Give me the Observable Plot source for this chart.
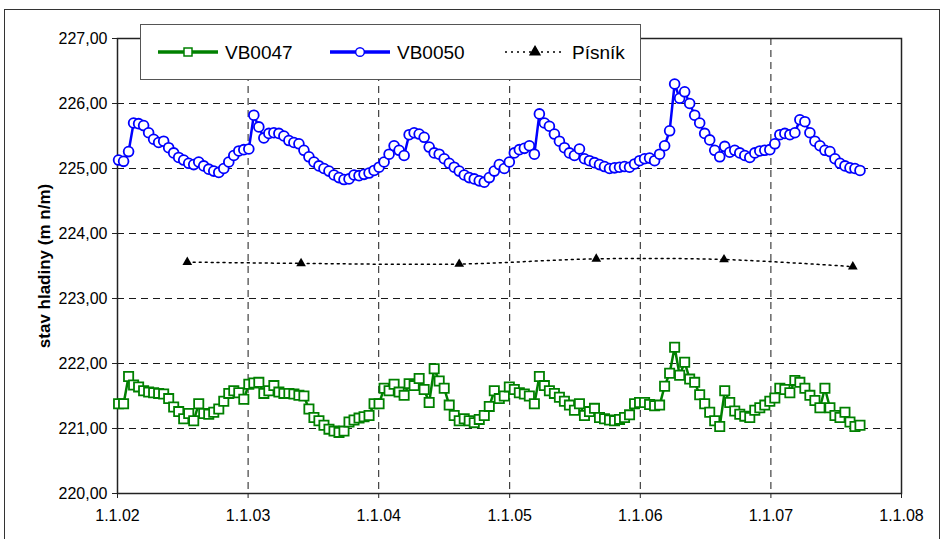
<!DOCTYPE html>
<html><head><meta charset="utf-8">
<script src="https://cdn.jsdelivr.net/npm/d3@7"></script>
<script src="https://cdn.jsdelivr.net/npm/@observablehq/plot@0.6"></script>
<style>
body{margin:0;background:#fff;}
#wrap{position:relative;width:941px;height:539px;overflow:hidden;font-family:"Liberation Sans",Arial,sans-serif;}
#chart{position:absolute;left:0;top:0;}
#border{position:absolute;left:4px;top:9px;width:936px;height:545px;border:1.5px solid #333;box-sizing:border-box;pointer-events:none;}
#legend{position:absolute;left:140px;top:24px;width:501px;height:56px;border:1.5px solid #555;background:#fff;box-sizing:border-box;}
g[aria-label="y-axis label"] text{font-weight:bold;font-size:17px;}
</style></head><body>
<div id="wrap"><div id="chart"></div><div id="border"></div><div id="legend"></div></div>
<script>
// ---- data ----
const seriesNames = ["VB0047", "VB0050", "Písník"];
const startDate = "2002-01-04"; // first measurement, then every 14 days
const stepDays = 14;
const vb0050 = [
225.13,225.11,225.26,225.70,225.69,225.66,225.55,225.45,225.40,225.42,
225.32,225.24,225.17,225.13,225.08,225.06,225.10,225.04,224.99,224.96,
224.94,225.00,225.10,225.20,225.27,225.29,225.30,225.82,225.64,225.47,
225.54,225.55,225.54,225.50,225.43,225.40,225.38,225.28,225.18,225.10,
225.04,225.00,224.96,224.90,224.86,224.83,224.84,224.90,224.89,224.91,
224.93,224.97,225.02,225.10,225.22,225.35,225.28,225.20,225.52,225.55,
225.53,225.48,225.33,225.24,225.22,225.15,225.08,225.02,224.96,224.90,
224.86,224.84,224.81,224.79,224.86,224.96,225.06,225.00,225.10,225.24,
225.29,225.31,225.35,225.22,225.84,225.70,225.65,225.53,225.42,225.32,
225.24,225.20,225.30,225.15,225.12,225.09,225.06,225.03,225.00,225.01,
225.02,225.03,225.02,225.07,225.12,225.15,225.16,225.12,225.22,225.35,
225.58,226.30,226.08,226.18,226.00,225.82,225.70,225.54,225.44,225.28,
225.18,225.34,225.25,225.28,225.24,225.20,225.17,225.24,225.27,225.28,
225.29,225.38,225.52,225.54,225.52,225.55,225.75,225.72,225.55,225.42,
225.35,225.28,225.26,225.15,225.08,225.04,225.01,225.00,224.97];
const vb0047 = [
221.38,221.38,221.80,221.67,221.64,221.58,221.56,221.55,221.54,221.53,
221.46,221.33,221.26,221.15,221.23,221.12,221.38,221.23,221.22,221.25,
221.30,221.42,221.54,221.58,221.55,221.45,221.68,221.70,221.71,221.54,
221.58,221.66,221.56,221.54,221.54,221.53,221.51,221.50,221.30,221.17,
221.12,221.05,220.99,220.96,220.94,220.96,221.10,221.13,221.16,221.18,
221.20,221.38,221.38,221.62,221.58,221.68,221.56,221.51,221.69,221.66,
221.77,221.60,221.40,221.92,221.73,221.62,221.36,221.20,221.12,221.15,
221.12,221.09,221.14,221.20,221.34,221.58,221.46,221.50,221.64,221.60,
221.55,221.53,221.50,221.38,221.80,221.66,221.58,221.54,221.48,221.42,
221.36,221.28,221.38,221.20,221.26,221.31,221.17,221.15,221.13,221.12,
221.14,221.17,221.21,221.38,221.40,221.40,221.37,221.35,221.36,221.65,
221.85,222.25,221.82,222.02,221.76,221.71,221.52,221.38,221.25,221.12,
221.03,221.58,221.40,221.27,221.22,221.19,221.17,221.28,221.32,221.36,
221.42,221.47,221.62,221.60,221.55,221.74,221.71,221.62,221.51,221.43,
221.32,221.62,221.32,221.20,221.17,221.25,221.10,221.03,221.05];
const pisnikDates = ["2002-07-15","2003-05-29","2004-08-13","2005-08-31","2006-08-23","2007-08-18"];
const pisnikValues = [223.56,223.54,223.53,223.61,223.60,223.49];
const xTickLabels = ["1.1.02","1.1.03","1.1.04","1.1.05","1.1.06","1.1.07","1.1.08"];
const xTickDates = ["2002-01-01","2003-01-01","2004-01-01","2005-01-01","2006-01-01","2007-01-01","2008-01-01"];
const yTicks = [220,221,222,223,224,225,226,227];
const colors = {VB0047: "#008000", VB0050: "#0000ff", "Písník": "#000000"};

// ---- build tables ----
const t0 = new Date(startDate + "T00:00:00Z");
const toRows = vals => vals.map((v, i) => ({date: d3.utcDay.offset(t0, i * stepDays), v}));
const g47 = toRows(vb0047);
const b50 = toRows(vb0050);
const pis = pisnikDates.map((d, i) => ({date: new Date(d + "T00:00:00Z"), v: pisnikValues[i]}));
const xTicks = xTickDates.map(d => new Date(d + "T00:00:00Z"));
const xLabel = new Map(xTicks.map((d, i) => [+d, xTickLabels[i]]));
const yFmt = d => d.toFixed(2).replace(".", ",");
const dash = "7,5";

const chart = Plot.plot({
  width: 941, height: 539,
  marginLeft: 117, marginRight: 40, marginTop: 38, marginBottom: 46,
  style: {fontFamily: '"Liberation Sans", Arial, sans-serif', fontSize: "16px", background: "transparent", color: "#000"},
  x: {type: "utc", domain: [xTicks[0], xTicks[xTicks.length - 1]]},
  y: {domain: [220, 227]},
  marks: [
    Plot.ruleY(yTicks.slice(1, -1), {stroke: "#000", strokeOpacity: 0.9, strokeDasharray: dash}),
    Plot.ruleX(xTicks.slice(1, -1), {stroke: "#000", strokeOpacity: 0.9, strokeDasharray: dash}),
    Plot.frame({stroke: "#222", strokeWidth: 1.5}),
    Plot.axisX({ticks: xTicks, tickFormat: d => xLabel.get(+d), tickSize: 5, tickPadding: 11, label: null, stroke: "#222"}),
    Plot.axisY({ticks: yTicks, tickFormat: yFmt, tickSize: 5, tickPadding: 5, label: "stav hladiny (m n/m)", labelAnchor: "center", labelArrow: "none", labelOffset: 80, stroke: "#222"}),
    Plot.line(g47, {x: "date", y: "v", stroke: colors.VB0047, strokeWidth: 2.5}),
    Plot.dot(g47, {x: "date", y: "v", symbol: "square", r: 5.2, stroke: colors.VB0047, strokeWidth: 1.8, fill: "white"}),
    Plot.line(b50, {x: "date", y: "v", stroke: colors.VB0050, strokeWidth: 2.5}),
    Plot.dot(b50, {x: "date", y: "v", symbol: "circle", r: 4.9, stroke: colors.VB0050, strokeWidth: 1.8, fill: "white"}),
    Plot.line(pis, {x: "date", y: "v", stroke: "#000", strokeWidth: 1.5, strokeDasharray: "2,4", curve: "catmull-rom"}),
    Plot.dot(pis, {x: "date", y: "v", symbol: "triangle", r: 3.6, fill: "#000"})
  ]
});
document.getElementById("chart").append(chart);

// ---- legend ----
const lg = d3.select("#legend").append("svg").attr("width", 498).attr("height", 53)
  .style("font-family", '"Liberation Sans", Arial, sans-serif');
const items = [
  {name: seriesNames[0], x0: 17, sym: d3.symbolSquare, size: 64, fill: "white", dash: null},
  {name: seriesNames[1], x0: 189, sym: d3.symbolCircle, size: 60, fill: "white", dash: null},
  {name: seriesNames[2], x0: 364, sym: d3.symbolTriangle, size: 40, fill: "#000", dash: "2,4"}
];
const cy = 27;
items.forEach(it => {
  const c = colors[it.name];
  lg.append("line").attr("x1", it.x0).attr("x2", it.x0 + 60).attr("y1", cy).attr("y2", cy)
    .attr("stroke", c).attr("stroke-width", it.name === "Písník" ? 1.5 : 3.5).attr("stroke-dasharray", it.dash);
  lg.append("path").attr("d", d3.symbol(it.sym, it.size)()).attr("transform", `translate(${it.x0 + 30},${cy})`)
    .attr("fill", it.fill).attr("stroke", c).attr("stroke-width", 1.5);
  lg.append("text").attr("x", it.x0 + 67).attr("y", cy).attr("dy", "0.36em").attr("font-size", 19).text(it.name);
});
</script>
</body></html>
